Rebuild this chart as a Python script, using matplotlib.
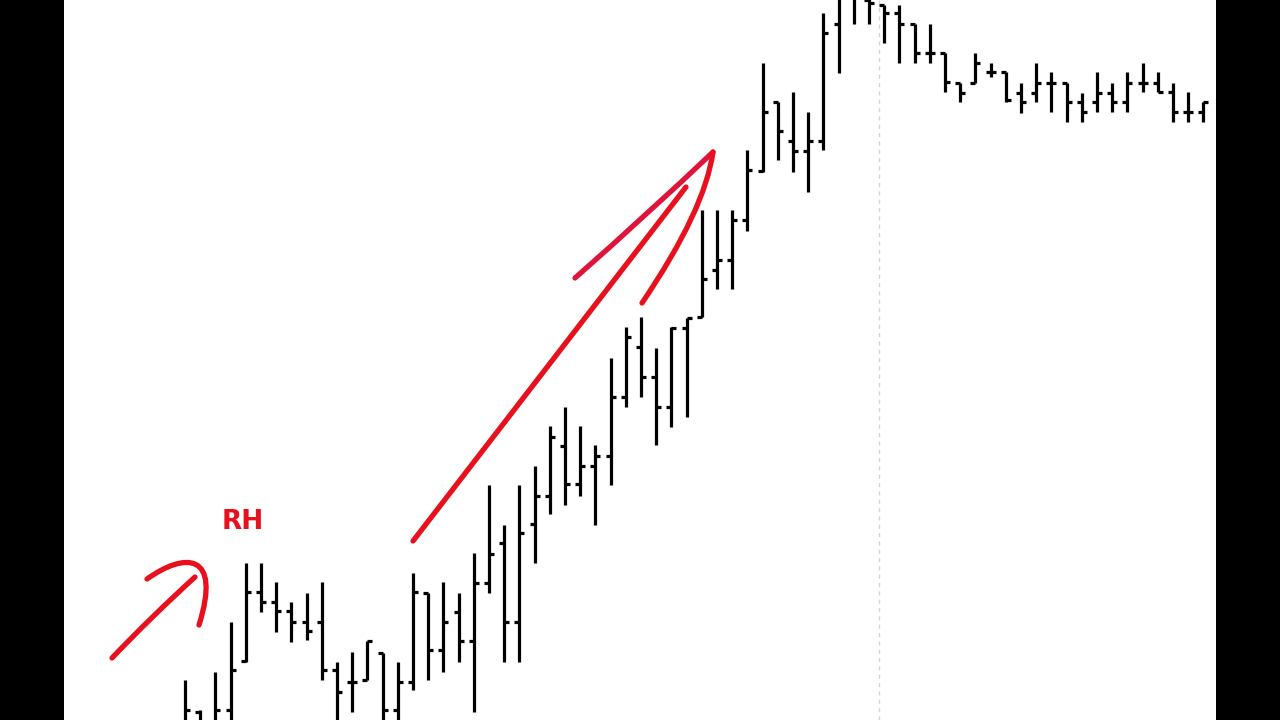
import numpy as np
import matplotlib
matplotlib.use('Agg')
import matplotlib.pyplot as plt
from matplotlib.path import Path
from matplotlib.patches import PathPatch

# OHLC bars (price units, bars run off the top/bottom edge)
opens = [-10, 8, -10, 10, 59, 128, 118, 109, 98, 98,
         50, 38, 40, 67, 10, 38, 127, 70, 108, 79,
         137, 177, 98, 196, 224, 274, 236, 254, 264, 323,
         373, 343, 313, 392, 403, 450, 460, 500, 549, 618,
         579, 569, 579, 696, 730, 720, 715, 707, 696, 667,
         667, 637, 637, 648, 648, 627, 627, 637, 637, 618,
         618, 627, 618, 637, 637, 628, 608, 608]
highs = [40, 10, 48, 98, 157, 157, 138, 118, 127, 138,
         58, 68, 79, 67, 58, 147, 127, 138, 127, 167,
         235, 195, 235, 254, 294, 313, 294, 275, 362, 393,
         403, 372, 393, 402, 510, 510, 510, 570, 657, 618,
         628, 608, 707, 735, 740, 730, 715, 715, 696, 696,
         667, 637, 667, 657, 648, 637, 657, 648, 637, 627,
         648, 637, 648, 657, 648, 637, 628, 618]
lows = [-25, -25, -20, -20, 58, 108, 88, 78, 80, 40,
        -10, 8, 40, -10, -10, 30, 40, 48, 58, 8,
        127, 58, 58, 157, 206, 215, 224, 195, 235, 313,
        323, 275, 293, 303, 403, 431, 431, 489, 548, 560,
        548, 528, 570, 647, 696, 696, 677, 657, 657, 657,
        628, 618, 637, 643, 618, 607, 618, 608, 598, 598,
        608, 608, 608, 628, 628, 598, 598, 598]
closes = [10, -10, 10, 50, 128, 118, 109, 98, 89, 50,
          28, 38, 79, 10, 38, 128, 70, 98, 79, 137,
          166, 98, 187, 224, 283, 236, 254, 264, 323, 383,
          343, 313, 392, 402, 441, 460, 500, 550, 608, 589,
          569, 579, 687, 725, 725, 717, 707, 696, 667, 667,
          638, 627, 657, 648, 620, 618, 637, 637, 618, 608,
          627, 618, 637, 637, 628, 608, 608, 618]

session_break = 45.66

x = np.arange(len(opens))
tick = 0.33

fig = plt.figure(figsize=(12.8, 7.2), dpi=100, facecolor='black')
ax = fig.add_axes([64 / 1280, 0, 1152 / 1280, 1])
ax.set_facecolor('white')

ax.axvline(session_break, color='#d6d6d6', lw=1, ls=(0, (3, 3)), zorder=1)

ax.vlines(x, lows, highs, color='black', lw=2.3, zorder=3)
ax.hlines(opens, x - tick, x, color='black', lw=2.3, zorder=3)
ax.hlines(closes, x, x + tick, color='black', lw=2.3, zorder=3)

ax.set_xlim(-7.96, 67.83)
ax.set_ylim(0, 720)
ax.set_xticks([])
ax.set_yticks([])
for s in ax.spines.values():
    s.set_visible(False)

# hand-drawn red arrows (figure pixel coords, y from top)
red = '#e8101c'
W, H = 1280, 720


def stroke(pts, codes, color=red, lw=3.8):
    verts = [(px / W, 1 - py / H) for px, py in pts]
    patch = PathPatch(Path(verts, codes), fill=False, edgecolor=color, lw=lw,
                      capstyle='round', joinstyle='round',
                      transform=fig.transFigure, zorder=5)
    fig.add_artist(patch)


C3, C4, M, L = Path.CURVE3, Path.CURVE4, Path.MOVETO, Path.LINETO

# small arrow
stroke([(112, 658), (150, 618), (195, 577)], [M, C3, C3])
stroke([(147, 579), (185, 552), (222, 552), (199, 625)], [M, C4, C4, C4])

# big arrow
stroke([(413, 541), (686, 187)], [M, L])
stroke([(575, 278), (650, 212), (713, 152)], [M, C3, C3], color='#e0143a')
stroke([(713, 152), (705, 210), (642, 303)], [M, C3, C3])

fig.text(243 / W, 1 - 522 / H, 'RH', color=red, fontsize=19, fontweight='bold',
         ha='center', va='center', family='DejaVu Sans')

fig.savefig('out.png', dpi=100, facecolor='black')
